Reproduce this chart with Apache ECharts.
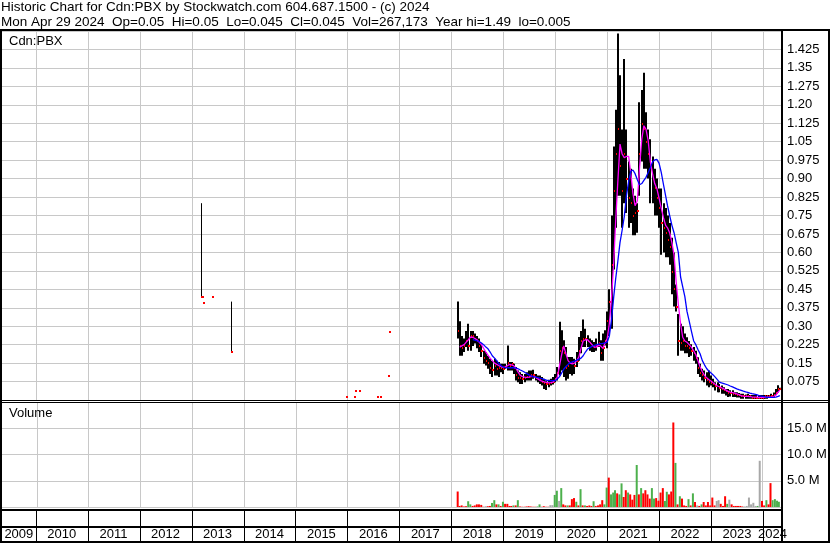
<!DOCTYPE html>
<html><head><meta charset="utf-8">
<script src="https://cdn.jsdelivr.net/npm/echarts/dist/echarts.min.js"></script>
<style>html,body{margin:0;padding:0;background:#fff}#c{width:830px;height:543px}</style>
</head><body><div id="c"></div><script>
// ---------- DATA ----------
const titleLine1 = 'Historic Chart for Cdn:PBX by Stockwatch.com 604.687.1500 - (c) 2024';
const titleLine2 = 'Mon Apr 29 2024  Op=0.05  Hi=0.05  Lo=0.045  Cl=0.045  Vol=267,173  Year hi=1.49  lo=0.005';
const priceTickLabels = ['0.075','0.15','0.225','0.30','0.375','0.45','0.525','0.60','0.675','0.75','0.825','0.90','0.975','1.05','1.125','1.20','1.275','1.35','1.425'];
const volTickLabels = ['5.0 M','10.0 M','15.0 M'];
const yearLabels = ['2009','2010','2011','2012','2013','2014','2015','2016','2017','2018','2019','2020','2021','2022','2023','2024'];
const yearStarts = ['2009-01-01','2010-01-01','2011-01-01','2012-01-01','2013-01-01','2014-01-01','2015-01-01','2016-01-01','2017-01-01','2018-01-01','2019-01-01','2020-01-01','2021-01-01','2022-01-01','2023-01-01','2024-01-01','2025-01-01'];

// sparse early trades
const earlyDates = ['2013-03-08','2013-03-15','2013-03-22','2013-05-22','2013-10-03','2015-12-26','2016-02-20','2016-02-27','2016-03-22','2016-07-31','2016-08-18','2016-10-15','2016-10-22'];
const earlyHigh  = [0.80,0.417,0.396,0.417,0.40,0.014,0.014,0.035,0.035,0.014,0.014,0.097,0.278];
const earlyLow   = [0.417,0.417,0.396,0.417,0.197,0.014,0.014,0.035,0.035,0.014,0.014,0.097,0.278];
const earlyClose = [0.417,0.417,0.396,0.417,0.197,0.014,0.014,0.035,0.035,0.014,0.014,0.097,0.278];

// semi-monthly periods 2018-02-16 .. 2024-04-29
const dates = (function(){const o=[];for(let y=2018;y<=2024;y++)for(let m=1;m<=12;m++)for(const d of [1,16]){const s=y+'-'+String(m).padStart(2,'0')+'-'+String(d).padStart(2,'0');if(s>='2018-02-16'&&s<='2024-04-16')o.push(s);}o.push('2024-04-29');return o;})();

const high = [
 0.40,0.32,0.26,0.25,0.28,0.31,0.28,0.28,0.27,0.26,0.25,0.23,0.20,0.195,0.18,0.168,0.16,0.168,0.16,0.154,0.147,
 0.147,0.147,0.222,0.154,0.154,0.147,0.134,0.12,0.113,0.106,0.106,0.113,0.12,0.12,0.123,0.106,0.10,0.10,0.093,0.086,0.079,0.082,0.086,0.093,
 0.106,0.134,0.318,0.284,0.243,0.215,0.175,0.175,0.175,0.168,0.195,0.256,0.28,0.327,0.29,0.263,0.25,0.243,0.236,0.25,0.277,0.243,0.27,0.284,
 0.36,0.45,0.75,1.03,1.18,1.49,1.32,1.10,1.386,1.10,0.97,0.94,0.86,0.83,0.80,1.21,1.26,1.33,1.17,1.10,1.06,0.99,0.94,0.90,
 0.86,0.86,0.80,0.78,0.75,0.72,0.66,0.60,0.47,0.35,0.31,0.30,0.27,0.255,0.24,0.227,0.215,0.20,0.174,0.147,0.127,0.12,0.113,0.12,
 0.10,0.086,0.072,0.072,0.065,0.059,0.052,0.045,0.045,0.04,0.04,0.032,0.032,0.028,0.025,0.025,0.022,0.025,0.02,0.02,0.02,0.02,0.02,0.02,
 0.02,0.02,0.02,0.02,0.025,0.03,0.045,0.06,0.05];
const low = [
 0.25,0.18,0.18,0.195,0.215,0.20,0.20,0.22,0.23,0.21,0.195,0.175,0.147,0.14,0.127,0.106,0.093,0.10,0.10,0.093,0.113,
 0.106,0.127,0.12,0.12,0.12,0.106,0.079,0.072,0.065,0.065,0.072,0.079,0.079,0.079,0.086,0.079,0.072,0.065,0.059,0.045,0.041,0.052,0.059,0.063,
 0.072,0.079,0.10,0.12,0.093,0.079,0.086,0.106,0.10,0.106,0.134,0.16,0.19,0.215,0.215,0.215,0.20,0.195,0.195,0.20,0.215,0.16,0.16,0.222,
 0.21,0.26,0.29,0.53,0.70,0.83,0.83,0.70,0.80,0.76,0.70,0.72,0.67,0.67,0.68,0.83,0.97,0.94,0.94,0.90,0.80,0.80,0.75,0.75,
 0.70,0.59,0.60,0.58,0.58,0.55,0.43,0.38,0.36,0.18,0.20,0.20,0.19,0.19,0.175,0.18,0.16,0.147,0.106,0.093,0.079,0.072,0.059,0.052,
 0.059,0.052,0.039,0.032,0.032,0.025,0.025,0.018,0.012,0.014,0.012,0.012,0.01,0.01,0.005,0.005,0.005,0.005,0.005,0.005,0.005,0.005,0.005,0.005,
 0.005,0.005,0.005,0.01,0.01,0.01,0.02,0.03,0.045];
const close = [
 0.28,0.22,0.21,0.22,0.24,0.22,0.26,0.26,0.25,0.24,0.22,0.20,0.17,0.16,0.15,0.13,0.12,0.14,0.125,0.13,0.13,
 0.125,0.135,0.15,0.14,0.145,0.13,0.10,0.09,0.09,0.085,0.09,0.095,0.095,0.10,0.10,0.09,0.085,0.08,0.075,0.07,0.065,0.065,0.07,0.075,
 0.085,0.11,0.20,0.21,0.19,0.13,0.14,0.15,0.15,0.14,0.16,0.20,0.24,0.25,0.25,0.24,0.23,0.22,0.215,0.22,0.23,0.19,0.21,0.24,
 0.32,0.40,0.55,0.85,1.0,1.10,0.95,0.85,1.00,0.90,0.82,0.80,0.75,0.76,0.77,1.0,1.12,1.10,1.05,1.0,0.95,0.90,0.86,0.82,
 0.78,0.72,0.70,0.68,0.65,0.62,0.52,0.45,0.38,0.24,0.23,0.24,0.22,0.22,0.21,0.20,0.19,0.17,0.13,0.11,0.10,0.09,0.08,0.075,
 0.07,0.065,0.055,0.05,0.05,0.045,0.04,0.035,0.03,0.03,0.025,0.025,0.02,0.02,0.015,0.015,0.015,0.015,0.015,0.01,0.01,0.01,0.01,0.01,
 0.01,0.015,0.015,0.015,0.015,0.02,0.03,0.045,0.045];
const maFast = [
 null,0.215,0.22,0.225,0.235,0.245,0.256,0.255,0.25,0.245,0.235,0.225,0.21,0.195,0.182,0.17,0.16,0.15,0.145,0.14,0.136,
 0.133,0.135,0.14,0.145,0.147,0.14,0.128,0.113,0.10,0.095,0.093,0.092,0.093,0.095,0.096,0.093,0.086,0.08,0.077,0.074,0.072,0.07,0.071,0.073,
 0.08,0.093,0.14,0.185,0.22,0.19,0.16,0.15,0.147,0.15,0.16,0.175,0.21,0.24,0.245,0.245,0.235,0.225,0.215,0.215,0.222,0.22,0.21,0.23,
 0.25,0.31,0.42,0.56,0.72,0.88,1.04,1.0,0.985,0.99,0.99,0.92,0.84,0.79,0.81,0.94,1.06,1.115,1.10,1.055,0.966,0.92,0.88,0.86,
 0.82,0.78,0.74,0.71,0.70,0.68,0.64,0.59,0.48,0.39,0.31,0.255,0.24,0.235,0.225,0.215,0.20,0.185,0.16,0.135,0.115,0.10,0.09,0.083,
 0.077,0.07,0.063,0.057,0.054,0.05,0.045,0.04,0.035,0.032,0.03,0.028,0.025,0.022,0.018,0.016,0.015,0.015,0.014,0.013,0.012,0.012,0.011,0.011,
 0.011,0.011,0.012,0.012,0.012,0.014,0.02,0.032,0.04];
const maSlow = [
 null,null,null,null,null,null,null,0.245,0.243,0.24,0.238,0.232,0.225,0.215,0.208,0.195,0.18,0.17,0.16,0.148,0.14,
 0.134,0.132,0.131,0.131,0.131,0.131,0.13,0.127,0.122,0.118,0.113,0.107,0.102,0.098,0.095,0.093,0.091,0.089,0.087,0.084,0.081,0.079,0.079,0.079,
 0.079,0.085,0.095,0.11,0.125,0.135,0.145,0.152,0.155,0.158,0.162,0.165,0.17,0.18,0.195,0.207,0.213,0.218,0.221,0.224,0.227,0.229,0.23,0.232,
 0.235,0.26,0.33,0.42,0.49,0.56,0.64,0.69,0.745,0.83,0.89,0.93,0.935,0.92,0.895,0.875,0.88,0.893,0.905,0.925,0.945,0.968,0.976,0.978,
 0.962,0.925,0.875,0.83,0.79,0.75,0.71,0.68,0.64,0.60,0.50,0.46,0.42,0.36,0.32,0.28,0.24,0.225,0.205,0.188,0.16,0.143,0.128,0.118,
 0.11,0.102,0.092,0.082,0.073,0.07,0.067,0.064,0.061,0.057,0.053,0.049,0.045,0.042,0.039,0.036,0.033,0.031,0.028,0.026,0.024,0.022,0.019,0.017,
 0.015,0.013,0.011,0.011,0.011,0.011,0.012,0.015,0.018];
const volume = [ // millions
 2.95,0.2,0.3,0.1,0.15,1.1,0.5,0.2,0.3,0.5,0.5,0.4,0.05,0.15,0.15,0.2,0.77,1.3,0.5,0.5,0.2,
 1.0,0.6,0.6,0.2,0.2,0.3,0.3,1.3,0.1,0.05,0.05,0.1,0.15,0.1,0.05,0.05,0.1,0.5,0.05,0.15,0.05,0.05,0.35,0.35,
 2.3,3.1,1.15,3.6,0.5,0.3,0.3,0.3,1.5,1.7,1.0,0.3,3.4,0.3,0.3,0.2,0.3,0.2,1.1,0.2,0.3,0.5,1.3,0.5,
 3.7,5.6,2.4,2.75,3.2,2.6,2.4,4.5,1.9,3.2,2.75,2.4,1.4,2.3,8.0,2.4,3.6,2.6,3.2,2.4,1.6,3.6,1.6,1.7,
 1.2,2.75,3.6,1.15,2.9,2.4,2.95,16.1,8.4,0.5,2.05,1.6,0.3,0.2,1.5,0.3,2.6,0.95,0.3,0.2,0.5,0.95,0.3,0.95,
 0.3,1.8,0.3,1.15,1.3,0.6,0.2,2.05,0.6,1.4,0.5,0.2,0.2,0.2,0.2,0.1,0.1,0.2,1.8,0.5,0.8,0.2,0.2,8.8,
 1.15,0.3,1.3,0.5,4.55,1.3,1.5,1.2,1.0];
// r = down (red), g = up (green), n = unchanged (grey)
const volDir = ('rrrrrggrrrrrrnrrggrgr'+'grrrrgrgrrrrrrrrggrrrrnn'+'ggngrrgrrrgrgrgrrrgrrrrg'+'grgggrggrrgrrrgrgrrrrggr'+
 'rrrggrrrgrgrrrgrgrnrgrrr'+'rrrnnrrrgnrrrrrrnnnnnngn'+'rrgrrgggg').split('');

// ---------- CHART ----------
const FONT = '"Liberation Sans", Arial, sans-serif';
const dirColor = {r:'#ff0000', g:'#4cb04c', n:'#a8a8a8'};
const xBase = {type:'time', min:'2009-05-09', max:'2024-05-14', show:false};

function barRender(width){
  return function(params, api){
    const t = api.value(0);
    const ph = api.coord([t, api.value(2)]);
    const pl = api.coord([t, api.value(1)]);
    const pc = api.coord([t, api.value(3)]);
    const x = Math.round(ph[0]) + (width === 1 ? 0.5 : 0);
    const ch = [];
    if (pl[1] - ph[1] > 0.5) ch.push({type:'line', shape:{x1:x, y1:ph[1], x2:x, y2:pl[1]}, style:{stroke:'#000', lineWidth:width}});
    ch.push({type:'rect', shape:{x:Math.round(ph[0]), y:Math.round(pc[1]) - 1, width:2, height:2}, style:{fill:'#ff0000'}});
    return {type:'group', children:ch};
  };
}
function yearGridRender(params, api){
  const cs = params.coordSys;
  const x = Math.round(api.coord([api.value(0), 0])[0]) + 0.5;
  return {type:'line', shape:{x1:x, y1:cs.y, x2:x, y2:cs.y + cs.height}, style:{stroke:'#c8c8c8', lineWidth:1}};
}
function yearLabelRender(params, api){
  const cs = params.coordSys;
  const L = cs.x, R = cs.x + cs.width;
  const x0 = api.coord([api.value(0), 0])[0];
  const x1 = api.coord([api.value(1), 0])[0];
  const a = Math.max(x0, L), b = Math.min(x1, R);
  const ch = [];
  if (x0 > L) {
    const xl = Math.round(x0) + 0.5;
    ch.push({type:'line', shape:{x1:xl, y1:cs.y, x2:xl, y2:cs.y + cs.height}, style:{stroke:'#000', lineWidth:1}});
  }
  ch.push({type:'text', style:{text:yearLabels[params.dataIndex], x:(a + b) / 2, y:cs.y + 25.5,
    align:'center', verticalAlign:'middle', textAlign:'center', textVerticalAlign:'middle', font:'13px ' + FONT, fill:'#000'}});
  return {type:'group', children:ch};
}

const yLabelBase = {margin:5, color:'#000', fontSize:13, fontFamily:FONT};
const frame = [
  [0,29,830,2],[0,29,2,514],[781,29,2,514],[828,29,2,514],
  [0,400,830,1],[0,402,830,1],[0,509,783,2],[0,526,783,2],[0,541,830,2]
];

const option = {
  animation:false,
  grid:[
    {left:2, top:31, width:780, height:369},
    {left:2, top:402, width:780, height:105},
    {left:2, top:509, width:780, height:32}
  ],
  xAxis:[Object.assign({gridIndex:0}, xBase), Object.assign({gridIndex:1}, xBase), Object.assign({gridIndex:2}, xBase)],
  yAxis:[
    {gridIndex:0, type:'value', position:'right', min:0, max:1.5, interval:0.075,
     axisLine:{show:false}, axisTick:{show:false},
     splitLine:{show:true, lineStyle:{color:'#c8c8c8', width:1}},
     axisLabel:Object.assign({formatter:function(v){const k=Math.round(v/0.075);return (k>=1&&k<=priceTickLabels.length)?priceTickLabels[k-1]:'';}}, yLabelBase)},
    {gridIndex:1, type:'value', position:'right', min:0, max:20, interval:5,
     axisLine:{show:false}, axisTick:{show:false},
     splitLine:{show:true, lineStyle:{color:'#c8c8c8', width:1}},
     axisLabel:Object.assign({formatter:function(v){const k=Math.round(v/5);return (k>=1&&k<=volTickLabels.length)?volTickLabels[k-1]:'';}}, yLabelBase)},
    {gridIndex:2, type:'value', min:0, max:1, show:false}
  ],
  series:[
    {type:'custom', xAxisIndex:0, yAxisIndex:0, z:1, silent:true, renderItem:yearGridRender,
     encode:{x:0, y:1}, data:yearStarts.slice(1, -1).map(d => [d, 0])},
    {type:'custom', xAxisIndex:1, yAxisIndex:1, z:1, silent:true, renderItem:yearGridRender,
     encode:{x:0, y:1}, data:yearStarts.slice(1, -1).map(d => [d, 0])},
    {type:'custom', xAxisIndex:2, yAxisIndex:2, z:1, silent:true, renderItem:yearLabelRender,
     encode:{x:[0,1]}, data:yearStarts.slice(0, -1).map((d, i) => [d, yearStarts[i + 1]])},
    {type:'custom', name:'early', xAxisIndex:0, yAxisIndex:0, z:2, renderItem:barRender(1),
     encode:{x:0, y:[1,2,3]}, data:earlyDates.map((d, i) => [d, earlyLow[i], earlyHigh[i], earlyClose[i]])},
    {type:'custom', name:'price', xAxisIndex:0, yAxisIndex:0, z:2, renderItem:barRender(2),
     encode:{x:0, y:[1,2,3]}, data:dates.map((d, i) => [d, low[i], high[i], close[i]])},
    {type:'line', name:'fast', xAxisIndex:0, yAxisIndex:0, z:3, symbol:'none', showSymbol:false,
     lineStyle:{color:'#ff00ff', width:1.3}, data:dates.map((d, i) => [d, maFast[i]])},
    {type:'line', name:'slow', xAxisIndex:0, yAxisIndex:0, z:3, symbol:'none', showSymbol:false,
     lineStyle:{color:'#0000ff', width:1.3}, data:dates.map((d, i) => [d, maSlow[i]])},
    {type:'bar', name:'volume', xAxisIndex:1, yAxisIndex:1, z:2, barWidth:2,
     data:dates.map((d, i) => ({value:[d, volume[i]], itemStyle:{color:dirColor[volDir[i]]}}))}
  ],
  graphic:[].concat(
    frame.map(r => ({type:'rect', z:100, silent:true, shape:{x:r[0], y:r[1], width:r[2], height:r[3]}, style:{fill:'#000'}})),
    [
      {type:'text', z:100, x:1, y:7.5, style:{text:titleLine1, font:'13.5px ' + FONT, fill:'#000', verticalAlign:'middle', textVerticalAlign:'middle'}},
      {type:'text', z:100, x:1, y:22.5, style:{text:titleLine2, font:'13.5px ' + FONT, fill:'#000', verticalAlign:'middle', textVerticalAlign:'middle'}},
      {type:'text', z:100, x:9, y:41.5, style:{text:'Cdn:PBX', font:'13px ' + FONT, fill:'#000', verticalAlign:'middle', textVerticalAlign:'middle'}},
      {type:'text', z:100, x:9, y:413.5, style:{text:'Volume', font:'13px ' + FONT, fill:'#000', verticalAlign:'middle', textVerticalAlign:'middle'}}
    ]
  )
};
const chart = echarts.init(document.getElementById('c'), null, {renderer:'canvas'});
chart.setOption(option);
</script></body></html>
